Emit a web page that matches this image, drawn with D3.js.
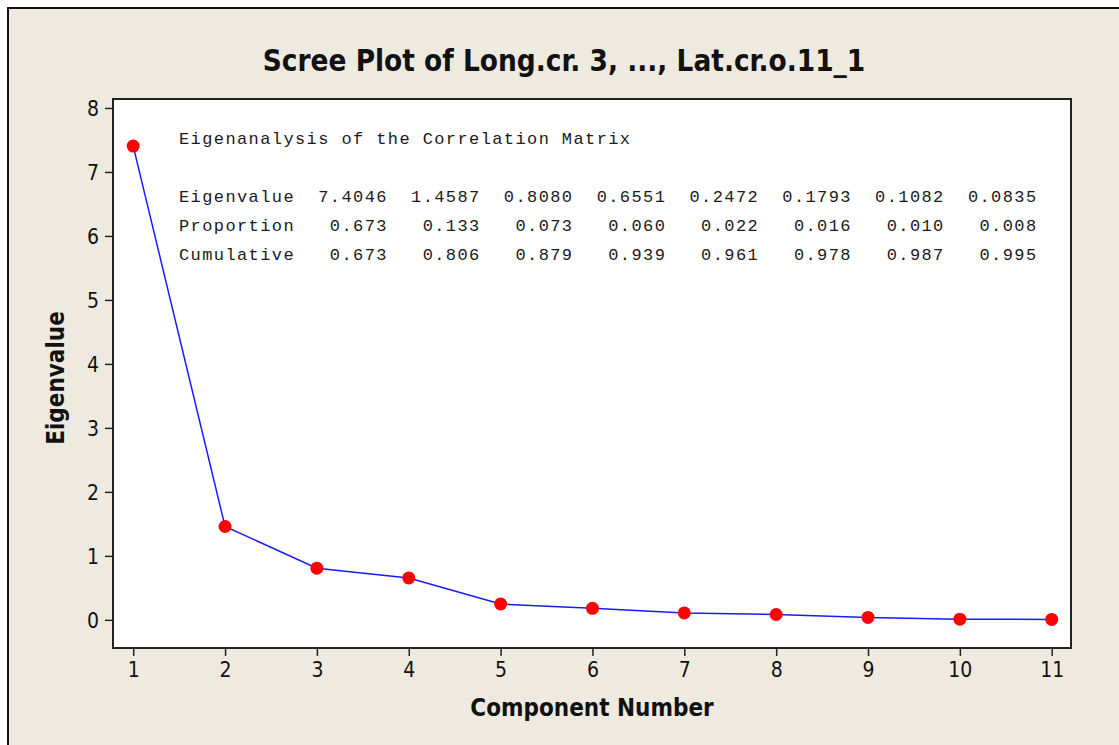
<!DOCTYPE html>
<html>
<head>
<meta charset="utf-8">
<script src="https://cdn.jsdelivr.net/npm/d3@7"></script>
<style>
  body { margin: 0; background: #fff; }
  svg { display: block; }
  .tick text { font-family: "DejaVu Sans Condensed", "DejaVu Sans", sans-serif; font-stretch: condensed; }
</style>
</head>
<body>
<div id="chart"></div>
<script>
var components = [1, 2, 3, 4, 5, 6, 7, 8, 9, 10, 11];
var eigenvalues = [7.4046, 1.4587, 0.8080, 0.6551, 0.2472, 0.1793, 0.1082, 0.0835, 0.0378, 0.0110, 0.0066];
var proportion = [0.673, 0.133, 0.073, 0.060, 0.022, 0.016, 0.010, 0.008];
var cumulative = [0.673, 0.806, 0.879, 0.939, 0.961, 0.978, 0.987, 0.995];
var yTicks = [0, 1, 2, 3, 4, 5, 6, 7, 8];

var W = 1119, H = 745;
var plot = {left: 113, top: 99, right: 1071, bottom: 648};

var svg = d3.select("#chart").append("svg")
    .attr("width", W)
    .attr("height", H);

// outer panel
svg.append("rect")
    .attr("x", 8).attr("y", 8)
    .attr("width", W).attr("height", H)
    .attr("fill", "#eeeae0");
svg.append("path")
    .attr("d", "M8," + H + "V8H" + W)
    .attr("fill", "none")
    .attr("stroke", "#111")
    .attr("stroke-width", 2);

var xScale = d3.scaleLinear()
    .domain([0.78, 11.21])
    .range([plot.left, plot.right]);

var yScale = d3.scaleLinear()
    .domain([-0.44, 8.14])
    .range([plot.bottom, plot.top]);

// plot area
svg.append("rect")
    .attr("x", plot.left).attr("y", plot.top)
    .attr("width", plot.right - plot.left)
    .attr("height", plot.bottom - plot.top)
    .attr("fill", "#fff")
    .attr("stroke", "#222")
    .attr("stroke-width", 2);

var xAxis = svg.append("g")
    .attr("transform", "translate(0," + (plot.bottom + 1) + ")")
    .call(d3.axisBottom(xScale).tickValues(components).tickSize(7).tickPadding(6).tickFormat(d3.format("d")));
var yAxis = svg.append("g")
    .attr("transform", "translate(" + (plot.left - 1) + ",0)")
    .call(d3.axisLeft(yScale).tickValues(yTicks).tickSize(7).tickPadding(6).tickFormat(d3.format("d")));

[xAxis, yAxis].forEach(function(a) {
  a.select(".domain").remove();
  a.selectAll(".tick line").attr("stroke", "#222").attr("stroke-width", 1.5);
  a.selectAll(".tick text").attr("font-size", 21).attr("fill", "#111");
});
yAxis.selectAll(".tick text").attr("dy", "0.36em");

// line + points
var line = d3.line()
    .x(function(d, i) { return xScale(components[i]); })
    .y(function(d) { return yScale(d); });

svg.append("path")
    .datum(eigenvalues)
    .attr("d", line)
    .attr("fill", "none")
    .attr("stroke", "#1a1aff")
    .attr("stroke-width", 1.5);

svg.selectAll(".pt")
    .data(eigenvalues)
    .enter()
    .append("circle")
    .attr("class", "pt")
    .attr("cx", function(d, i) { return xScale(components[i]); })
    .attr("cy", function(d) { return yScale(d); })
    .attr("r", 6.5)
    .attr("fill", "#ff0000");

// title & labels
var labFont = '"DejaVu Sans Condensed", "DejaVu Sans", sans-serif';
svg.append("text")
    .attr("x", 564).attr("y", 71)
    .attr("text-anchor", "middle")
    .attr("font-family", labFont)
    .attr("font-stretch", "condensed")
    .attr("font-weight", "bold")
    .attr("font-size", 29.4)
    .attr("fill", "#111")
    .text("Scree Plot of Long.cr. 3, ..., Lat.cr.o.11_1");

svg.append("text")
    .attr("x", (plot.left + plot.right) / 2).attr("y", 716)
    .attr("text-anchor", "middle")
    .attr("font-family", labFont)
    .attr("font-stretch", "condensed")
    .attr("font-weight", "bold")
    .attr("font-size", 24)
    .attr("fill", "#111")
    .text("Component Number");

svg.append("text")
    .attr("transform", "translate(64,378) rotate(-90)")
    .attr("text-anchor", "middle")
    .attr("font-family", labFont)
    .attr("font-stretch", "condensed")
    .attr("font-weight", "bold")
    .attr("font-size", 24)
    .attr("fill", "#111")
    .text("Eigenvalue");

// eigenanalysis table
function row(label, vals, digits) {
  return label.padEnd(10) + vals.map(function(v) { return v.toFixed(digits).padStart(8); }).join("");
}
var tableRows = [
  {y: 144, t: "Eigenanalysis of the Correlation Matrix"},
  {y: 202, t: row("Eigenvalue", eigenvalues.slice(0, 8), 4)},
  {y: 231, t: row("Proportion", proportion, 3)},
  {y: 260, t: row("Cumulative", cumulative, 3)}
];
svg.selectAll(".tbl")
    .data(tableRows)
    .enter()
    .append("text")
    .attr("class", "tbl")
    .attr("x", 179)
    .attr("y", function(d) { return d.y; })
    .attr("font-family", '"Liberation Mono", "DejaVu Sans Mono", monospace')
    .attr("font-size", 17)
    .attr("letter-spacing", 1.4)
    .attr("fill", "#1a1a1a")
    .style("white-space", "pre")
    .text(function(d) { return d.t; });
</script>
</body>
</html>
